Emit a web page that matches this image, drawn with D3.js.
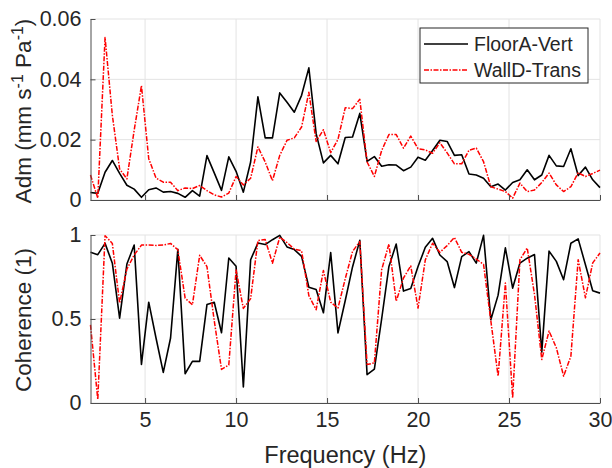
<!DOCTYPE html>
<html>
<head>
<meta charset="utf-8">
<script src="https://cdn.jsdelivr.net/npm/d3@7"></script>
<style>
  body { margin: 0; background: #fff; }
  svg text { font-family: "Liberation Sans", Arial, Helvetica, sans-serif; fill: #262626; }
</style>
</head>
<body>
<script>
// frequency bins (Hz)
const freq = [2.0, 2.4, 2.8, 3.2, 3.6, 4.0, 4.4, 4.8, 5.2, 5.6, 6.0, 6.4, 6.8, 7.2, 7.6, 8.0, 8.4, 8.8, 9.2, 9.6,
  10.0, 10.4, 10.8, 11.2, 11.6, 12.0, 12.4, 12.8, 13.2, 13.6, 14.0, 14.4, 14.8, 15.2, 15.6, 16.0, 16.4, 16.8, 17.2, 17.6,
  18.0, 18.4, 18.8, 19.2, 19.6, 20.0, 20.4, 20.8, 21.2, 21.6, 22.0, 22.4, 22.8, 23.2, 23.6, 24.0, 24.4, 24.8, 25.2, 25.6,
  26.0, 26.4, 26.8, 27.2, 27.6, 28.0, 28.4, 28.8, 29.2, 29.6, 30.0];

// admittance (mm s^-1 Pa^-1)
const admFloorA = [0.0025, 0.0022, 0.0092, 0.0131, 0.0088, 0.0049, 0.0036, 0.0009, 0.0034, 0.0040, 0.0026, 0.0028, 0.0022, 0.0009, 0.0031, 0.0013, 0.0147, 0.0090, 0.0032, 0.0143,
  0.0095, 0.0026, 0.0126, 0.0342, 0.0206, 0.0206, 0.0355, 0.0324, 0.0291, 0.0347, 0.0438, 0.0220, 0.0123, 0.0148, 0.0120, 0.0207, 0.0209, 0.0287, 0.0128, 0.0144,
  0.0112, 0.0117, 0.0116, 0.0097, 0.0109, 0.0142, 0.0132, 0.0164, 0.0198, 0.0194, 0.0148, 0.0150, 0.0086, 0.0083, 0.0072, 0.0044, 0.0053, 0.0033, 0.0058, 0.0067,
  0.0100, 0.0067, 0.0083, 0.0148, 0.0113, 0.0111, 0.0170, 0.0081, 0.0109, 0.0067, 0.0041];
const admWallD = [0.0083, 0.0006, 0.0539, 0.0281, 0.0103, 0.0070, 0.0231, 0.0379, 0.0137, 0.0073, 0.0059, 0.0059, 0.0031, 0.0040, 0.0038, 0.0048, 0.0031, 0.0017, 0.0010, 0.0023,
  0.0078, 0.0050, 0.0072, 0.0176, 0.0126, 0.0064, 0.0148, 0.0198, 0.0206, 0.0242, 0.0357, 0.0194, 0.0233, 0.0157, 0.0201, 0.0306, 0.0303, 0.0334, 0.0126, 0.0078,
  0.0164, 0.0217, 0.0217, 0.0172, 0.0212, 0.0170, 0.0166, 0.0155, 0.0190, 0.0156, 0.0120, 0.0120, 0.0165, 0.0172, 0.0127, 0.0044, 0.0036, 0.0028, 0.0006, 0.0056,
  0.0028, 0.0033, 0.0058, 0.0089, 0.0050, 0.0028, 0.0044, 0.0090, 0.0078, 0.0088, 0.0099];

// coherence (1)
const cohFloorA = [0.897, 0.883, 0.950, 0.832, 0.505, 0.827, 0.940, 0.23, 0.60, 0.387, 0.182, 0.387, 0.915, 0.174, 0.248, 0.248, 0.586, 0.600, 0.418, 0.863,
  0.814, 0.095, 0.853, 0.952, 0.943, 0.972, 0.998, 0.929, 0.913, 0.873, 0.689, 0.675, 0.537, 0.895, 0.417, 0.610, 0.810, 0.968, 0.169, 0.202,
  0.50, 0.813, 0.946, 0.666, 0.681, 0.812, 0.927, 0.980, 0.881, 0.842, 0.687, 0.871, 0.901, 0.833, 0.998, 0.496, 0.642, 0.924, 0.684, 0.833,
  0.862, 0.884, 0.303, 0.904, 0.843, 0.734, 0.951, 0.977, 0.823, 0.668, 0.654];
const cohWallD = [0.465, 0.02, 0.996, 0.950, 0.595, 0.797, 0.881, 0.940, 0.940, 0.938, 0.940, 0.950, 0.912, 0.624, 0.585, 0.879, 0.812, 0.490, 0.200, 0.226,
  0.792, 0.563, 0.621, 0.967, 0.973, 0.832, 0.987, 0.955, 0.916, 0.906, 0.639, 0.555, 0.789, 0.600, 0.565, 0.740, 0.902, 0.961, 0.229, 0.239,
  0.793, 0.946, 0.605, 0.744, 0.816, 0.565, 0.852, 0.951, 0.897, 0.937, 0.985, 0.897, 0.885, 0.857, 0.825, 0.490, 0.159, 0.714, 0.030, 0.853,
  0.923, 0.646, 0.259, 0.428, 0.329, 0.160, 0.279, 0.853, 0.626, 0.834, 0.893];

const seriesNames = ["FloorA-Vert", "WallD-Trans"];
const xTicks = [5, 10, 15, 20, 25, 30];
const admTicks = [0, 0.02, 0.04, 0.06];
const cohTicks = [0, 0.5, 1];

var width = 612, height = 468;
var left = 90.5, right = 600;

var svg = d3.select('body').append('svg')
  .attr('width', width)
  .attr('height', height);

var xScale = d3.scaleLinear().domain([2, 30]).range([left, right]);
var yAdm = d3.scaleLinear().domain([0, 0.06]).range([200, 19]);
var yCoh = d3.scaleLinear().domain([0, 1]).range([403, 235]);

var styles = [
  { color: '#000000', dash: null, w: 1.6 },
  { color: '#ff0000', dash: '5,1.5,1.5,1.5', w: 1.5 }
];

function drawPanel(yScale, yTicks, series, xLabels) {
  var top = yScale.range()[1], bottom = yScale.range()[0];
  var g = svg.append('g');

  // grid
  g.selectAll('.vgrid').data(xTicks).enter().append('line')
    .attr('x1', d => xScale(d)).attr('x2', d => xScale(d))
    .attr('y1', top).attr('y2', bottom)
    .attr('stroke', '#e3e3e3').attr('stroke-width', 1);
  g.selectAll('.hgrid').data(yTicks).enter().append('line')
    .attr('x1', left).attr('x2', right)
    .attr('y1', d => yScale(d)).attr('y2', d => yScale(d))
    .attr('stroke', '#e3e3e3').attr('stroke-width', 1);

  // lines
  var line = d3.line().x((d, i) => xScale(freq[i])).y(d => yScale(d));
  series.forEach((s, k) => {
    g.append('path')
      .attr('d', line(s))
      .attr('fill', 'none')
      .attr('stroke', styles[k].color)
      .attr('stroke-width', styles[k].w)
      .attr('stroke-dasharray', styles[k].dash)
      .attr('stroke-linejoin', 'round');
  });

  var xAxis = d3.axisBottom(xScale).tickValues(xTicks)
    .tickSizeInner(-5).tickSizeOuter(0).tickPadding(9)
    .tickFormat(xLabels ? d3.format('d') : '');
  var xg = g.append('g').attr('transform', `translate(0,${bottom})`).call(xAxis);

  var yAxis = d3.axisLeft(yScale).tickValues(yTicks)
    .tickSizeInner(-5).tickSizeOuter(0).tickPadding(9)
    .tickFormat(d => d);
  var yg = g.append('g').attr('transform', `translate(${left},0)`).call(yAxis);

  [xg, yg].forEach(a => {
    a.select('.domain').attr('stroke', '#4d4d4d');
    a.selectAll('.tick line').attr('stroke', '#4d4d4d');
    a.selectAll('.tick text').attr('font-size', 21.5).attr('fill', '#262626')
      .style('font-family', '"Liberation Sans", Arial, sans-serif');
  });
  return g;
}

drawPanel(yAdm, admTicks, [admFloorA, admWallD], false);
drawPanel(yCoh, cohTicks, [cohFloorA, cohWallD], true);

// y labels
var admLabel = svg.append('text')
  .attr('transform', 'translate(31,111) rotate(-90)')
  .attr('text-anchor', 'middle')
  .attr('font-size', 22.5);
admLabel.append('tspan').text('Adm (mm s');
admLabel.append('tspan').attr('dy', -8).attr('font-size', 16).text('-1');
admLabel.append('tspan').attr('dy', 8).text(' Pa');
admLabel.append('tspan').attr('dy', -8).attr('font-size', 16).text('-1');
admLabel.append('tspan').attr('dy', 8).text(')');

svg.append('text')
  .attr('transform', 'translate(31,320) rotate(-90)')
  .attr('text-anchor', 'middle')
  .attr('font-size', 22.5)
  .text('Coherence (1)');

svg.append('text')
  .attr('x', (left + right) / 2)
  .attr('y', 463)
  .attr('text-anchor', 'middle')
  .attr('font-size', 23.5)
  .text('Frequency (Hz)');

// legend
var legend = svg.append('g');
legend.append('rect')
  .attr('x', 420).attr('y', 28).attr('width', 168).attr('height', 55)
  .attr('fill', '#fff').attr('stroke', '#262626').attr('stroke-width', 1);
seriesNames.forEach((name, k) => {
  var y = 44 + k * 26;
  legend.append('line')
    .attr('x1', 424).attr('x2', 468).attr('y1', y).attr('y2', y)
    .attr('stroke', styles[k].color)
    .attr('stroke-width', styles[k].w)
    .attr('stroke-dasharray', styles[k].dash);
  legend.append('text')
    .attr('x', 474).attr('y', y + 7)
    .attr('font-size', 19.5)
    .text(name);
});
</script>
</body>
</html>
